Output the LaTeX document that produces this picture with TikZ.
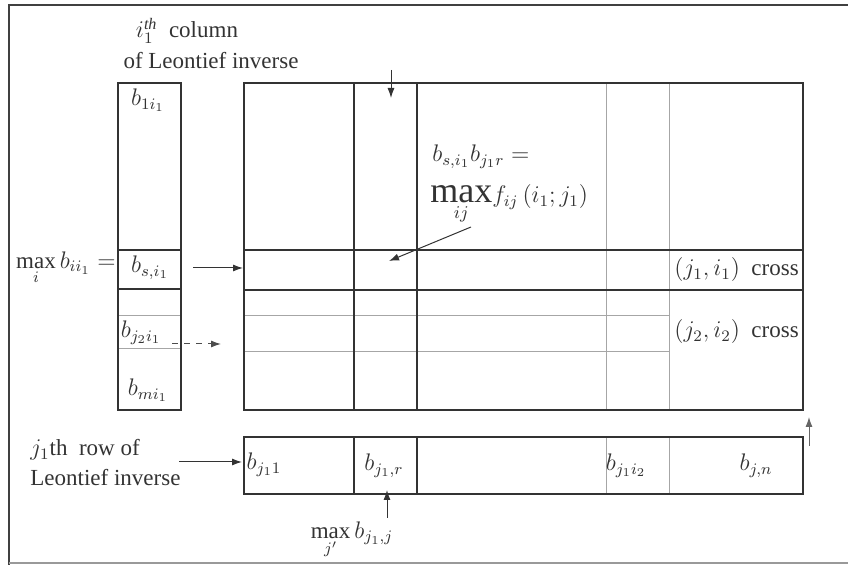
\documentclass[tikz,border=0pt]{standalone}
\usepackage{fontspec}
\setmainfont{Liberation Serif}
\usetikzlibrary{arrows.meta}
\begin{document}
\begin{tikzpicture}[x=0.5pt,y=-0.5pt,
  thickline/.style={line width=1.2pt, draw=black!80},
  thinline/.style={line width=0.4pt, draw=black!35},
  arr/.style={-{Latex[length=5pt,width=3.5pt]}, line width=0.5pt, draw=black!80},
  lbl/.style={font=\fontsize{11.5}{13}\selectfont, inner sep=0pt, text=black!80},
]
\useasboundingbox (0,0) rectangle (848,565);
% frame
\draw[line width=1.2pt, black!75] (848,5) -- (9,5) -- (9,565);
\draw[line width=0.6pt, black!40] (9,563) -- (848,563);

% left column
\draw[thinline] (118,315) -- (181,315) (118,348) -- (181,348);
\draw[thickline] (118,83) rectangle (181,410);
\draw[thickline] (118,250) -- (181,250) (118,289) -- (181,289);

% main grid
\draw[thinline] (606,83) -- (606,410) (669,83) -- (669,410);
\draw[thinline] (244,315) -- (669,315) (244,351) -- (669,351);
\draw[thickline] (244,83) rectangle (803,410);
\draw[thickline] (354,83) -- (354,410) (417,83) -- (417,410);
\draw[thickline] (244,250) -- (803,250) (244,290) -- (803,290);

% bottom row
\draw[thinline] (606,437) -- (606,494) (669,437) -- (669,494);
\draw[thickline] (244,437) rectangle (803,494);
\draw[thickline] (354,437) -- (354,494) (417,437) -- (417,494);

% labels
\node[lbl] (colA) at (187,31) {$i_1^{\mathit{th}}$\ \ column};
\node[lbl] (colB) at (211,61) {of Leontief inverse};
\node[lbl] (b1) at (148,100) {$b_{1i_1}$};
\node[lbl, anchor=east] (maxb) at (116,268) {$\max\limits_{i}b_{ii_1}=$};
\node[lbl] (bs) at (150,268) {$b_{s,i_1}$};
\node[lbl] (bj2) at (141,333) {$b_{j_2i_1}$};
\node[lbl] (bm) at (148,390) {$b_{mi_1}$};
\node[lbl, anchor=west] (prod) at (432,157) {$b_{s,i_1}b_{j_1r}=$};
\node[lbl, anchor=west] (maxf) at (430,204) {{\fontsize{18}{20}\selectfont$\max\limits_{\scriptscriptstyle ij}$}$f_{ij}\,(i_1;j_1)$};
\node[lbl, anchor=west] (c1) at (674,270) {$(j_1,i_1)$\ \ cross};
\node[lbl, anchor=west] (c2) at (674,332) {$(j_2,i_2)$\ \ cross};
\node[lbl, anchor=west] (rowA) at (30,450) {$j_1$th\ \ row of};
\node[lbl, anchor=west] (rowB) at (30,478) {Leontief inverse};
\node[lbl] (r1) at (264,465) {$b_{j_11}$};
\node[lbl] (rr) at (384,466) {$b_{j_1,r}$};
\node[lbl] (ri) at (626,466) {$b_{j_1i_2}$};
\node[lbl] (rn) at (756,466) {$b_{j,n}$};
\node[lbl] (maxr) at (352,540) {$\max\limits_{j'}b_{j_1,j}$};

% arrows
\coordinate (t1) at (391,70);   \coordinate (t2) at (391,98);
\draw[arr] (t1) -- (t2);
\coordinate (a1) at (193,268);  \coordinate (a2) at (243,268);
\draw[arr] (a1) -- (a2);
\coordinate (d1) at (172,344);  \coordinate (d2) at (221,344);
\draw[arr, dashed, draw=black!70] (d1) -- (d2);
\coordinate (g1) at (471,227);  \coordinate (g2) at (389,261);
\draw[arr] (g1) -- (g2);
\coordinate (h1) at (179,462);  \coordinate (h2) at (242,462);
\draw[arr] (h1) -- (h2);
\coordinate (u1) at (387,518);  \coordinate (u2) at (387,490);
\draw[arr] (u1) -- (u2);
\coordinate (v1) at (809,446);  \coordinate (v2) at (809,417);
\draw[arr, draw=black!60] (v1) -- (v2);
\end{tikzpicture}
\end{document}
